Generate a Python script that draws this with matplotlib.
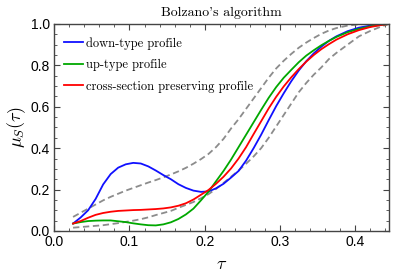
import matplotlib
matplotlib.use("Agg")
import matplotlib.pyplot as plt
from matplotlib.ticker import MultipleLocator

plt.rcParams['mathtext.fontset'] = 'cm'

tau = [0.025, 0.035, 0.045, 0.055, 0.065, 0.075, 0.085, 0.095, 0.105, 0.115,
       0.125, 0.135, 0.145, 0.155, 0.165, 0.175, 0.185, 0.195, 0.205, 0.215,
       0.225, 0.235, 0.245, 0.255, 0.265, 0.275, 0.285, 0.295, 0.305, 0.315,
       0.325, 0.335, 0.345, 0.355, 0.365, 0.375, 0.39, 0.405, 0.42, 0.435, 0.445]

down_type = [0.036, 0.065, 0.100, 0.155, 0.225, 0.275, 0.306, 0.322, 0.329, 0.326,
             0.312, 0.292, 0.270, 0.250, 0.226, 0.208, 0.195, 0.189, 0.191, 0.206,
             0.228, 0.258, 0.290, 0.340, 0.400, 0.465, 0.535, 0.603, 0.665, 0.723,
             0.775, 0.820, 0.858, 0.890, 0.918, 0.940, 0.965, 0.982, 0.992, 0.998, 1.0]

up_type = [0.036, 0.043, 0.048, 0.050, 0.051, 0.051, 0.047, 0.043, 0.037, 0.032,
           0.028, 0.027, 0.032, 0.042, 0.058, 0.080, 0.108, 0.148, 0.190, 0.240,
           0.290, 0.345, 0.405, 0.465, 0.525, 0.585, 0.643, 0.695, 0.740, 0.778,
           0.815, 0.847, 0.873, 0.897, 0.918, 0.937, 0.960, 0.976, 0.988, 0.996, 1.0]

cross_section = [0.036, 0.048, 0.064, 0.078, 0.087, 0.093, 0.097, 0.099, 0.101, 0.102,
                 0.104, 0.106, 0.109, 0.114, 0.122, 0.134, 0.152, 0.175, 0.198, 0.228,
                 0.262, 0.302, 0.350, 0.405, 0.468, 0.530, 0.592, 0.648, 0.698, 0.742,
                 0.782, 0.818, 0.850, 0.878, 0.902, 0.924, 0.950, 0.970, 0.985, 0.995, 1.0]

upper_bound = [0.068, 0.088, 0.108, 0.128, 0.148, 0.165, 0.180, 0.195, 0.208, 0.221,
               0.234, 0.246, 0.259, 0.273, 0.288, 0.305, 0.325, 0.347, 0.372, 0.405,
               0.445, 0.495, 0.540, 0.590, 0.640, 0.690, 0.740, 0.785, 0.822, 0.855,
               0.885, 0.910, 0.932, 0.952, 0.968, 0.980, 0.992, 0.998, 1.0, 1.0, 1.0]

lower_bound = [0.016, 0.019, 0.022, 0.025, 0.028, 0.033, 0.038, 0.044, 0.050, 0.057,
               0.066, 0.077, 0.087, 0.097, 0.112, 0.126, 0.140, 0.158, 0.178, 0.203,
               0.232, 0.262, 0.292, 0.325, 0.360, 0.400, 0.450, 0.505, 0.560, 0.615,
               0.670, 0.715, 0.755, 0.790, 0.830, 0.860, 0.900, 0.940, 0.966, 0.988, 1.0]

labels = ["down-type profile", "up-type profile", "cross-section preserving profile"]
xticks = [0.0, 0.1, 0.2, 0.3, 0.4]
yticks = [0.0, 0.2, 0.4, 0.6, 0.8, 1.0]

fig = plt.figure(figsize=(3.99, 2.75), dpi=100)
ax = fig.add_axes([0.136, 0.16, 0.839, 0.753])

ax.plot(tau, upper_bound, color='#8c8c8c', lw=1.3, dashes=(3.5, 2.0))
ax.plot(tau, lower_bound, color='#8c8c8c', lw=1.3, dashes=(3.5, 2.0))
ax.plot(tau, down_type, color='#1010ff', lw=1.3, label=labels[0])
ax.plot(tau, up_type, color='#00a800', lw=1.3, label=labels[1])
ax.plot(tau, cross_section, color='#ff0000', lw=1.3, label=labels[2])

ax.set_xlim(0, 0.445)
ax.set_ylim(0, 1.0)
ax.set_xticks(xticks)
ax.set_yticks(yticks)
ax.set_xticklabels([f"{v:.1f}" for v in xticks], family='Liberation Sans', fontsize=10)
ax.set_yticklabels([f"{v:.1f}" for v in yticks], family='Liberation Sans', fontsize=10)
ax.xaxis.set_minor_locator(MultipleLocator(0.02))
ax.yaxis.set_minor_locator(MultipleLocator(0.05))
ax.tick_params(which='both', direction='in', top=True, right=True, color='#444444')
ax.tick_params(which='major', length=4, width=0.8, pad=3)
ax.tick_params(which='minor', length=2, width=0.6)
for s in ax.spines.values():
    s.set_color('#444444')
    s.set_linewidth(1.0)

ax.set_xlabel(r'$\tau$', fontsize=13, labelpad=4)
ax.set_ylabel(r'$\mu_S(\tau)$', fontsize=13, labelpad=2)
ax.set_title("Bolzano's algorithm", family='cmr10', fontsize=10, pad=6)

leg = ax.legend(loc='upper left', frameon=False, prop={'family': 'cmr10', 'size': 9},
                handlelength=1.5, handletextpad=0.25, labelspacing=0.75,
                borderaxespad=0.4, bbox_to_anchor=(0.0, 0.985))

fig.savefig("out.png", dpi=100)
